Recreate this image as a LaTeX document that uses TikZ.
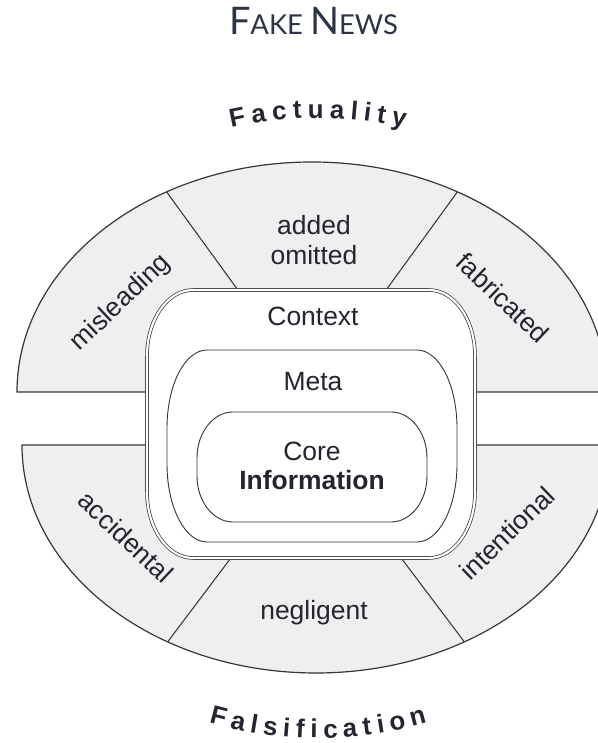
\documentclass[tikz,border=0pt]{standalone}
\usepackage{fontspec}
\setmainfont{Liberation Sans}
\newfontfamily\titlefont{Lato}
\usepackage{tikz}
\usetikzlibrary{positioning}
\usepackage{xcolor}
\definecolor{ringfill}{HTML}{EFEFEF}
\definecolor{ringline}{HTML}{363636}
\definecolor{inkdark}{HTML}{23252F}
\definecolor{titleink}{HTML}{2E3448}

% box with elliptic corners: cx, cy, half width, half height, corner rx, corner ry
\newcommand{\softbox}[6]{%
  (#1-#3+#5,#2+#4) -- (#1+#3-#5,#2+#4)
  arc[start angle=90, end angle=0, x radius=#5, y radius=#6] -- (#1+#3,#2-#4+#6)
  arc[start angle=0, end angle=-90, x radius=#5, y radius=#6] -- (#1-#3+#5,#2-#4)
  arc[start angle=270, end angle=180, x radius=#5, y radius=#6] -- (#1-#3,#2+#4-#6)
  arc[start angle=180, end angle=90, x radius=#5, y radius=#6] -- cycle}

\begin{document}
\begin{tikzpicture}[
  x=0.025cm, y=0.025cm,
  sector/.style={fill=ringfill, draw=ringline, line width=0.85pt},
  divider/.style={draw=ringline, line width=0.75pt},
  ctxbox/.style={fill=white, draw=ringline, line width=0.5pt,
                 double=white, double distance=1.5pt},
  layer/.style={fill=white, draw=ringline, line width=0.65pt},
  lbl/.style={font=\fontsize{18.8}{21}\selectfont, text=inkdark,
              align=center, inner sep=0pt},
  arcletter/.style={font=\fontsize{18.4}{18}\selectfont\bfseries,
                    text=inkdark, anchor=base, inner sep=0pt}
]
  \clip (0,0) rectangle (598,743);

  \coordinate (upc) at (312,351);
  \coordinate (lowc) at (316,298);
  \coordinate (factc) at (318,225);
  \coordinate (falsc) at (318,405);

  % Title
  \node[anchor=base, text=titleink, inner sep=0pt] (title) at (313.5,708)
    {\titlefont\fontsize{27}{28}\selectfont F\fontsize{19.5}{20}\selectfont AKE
     \fontsize{27}{28}\selectfont N\fontsize{19.5}{20}\selectfont EWS};

  % Outer ring, two halves
  \path[sector] (17,351) arc[start angle=180, end angle=0, x radius=295, y radius=230] -- cycle;
  \path[sector] (22,298) arc[start angle=180, end angle=360, x radius=294, y radius=228] -- cycle;

  % Sector borders
  \begin{scope}
    \clip (17,351) arc[start angle=180, end angle=0, x radius=295, y radius=230] -- cycle;
    \draw[divider] (upc) -- ++(54:320) (upc) -- ++(126:320);
  \end{scope}
  \begin{scope}
    \clip (22,298) arc[start angle=180, end angle=360, x radius=294, y radius=228] -- cycle;
    \draw[divider] (lowc) -- ++(233:320) (lowc) -- ++(307:320);
  \end{scope}

  % Nested layers
  \path[ctxbox] \softbox{311}{319}{164}{134}{46}{66};
  \path[layer] \softbox{312}{297}{145}{96}{40}{78};
  \path[layer] \softbox{312}{276}{115}{55}{36}{46};

  % Labels
  \node[lbl] (added) at (314,503) {added\\omitted};
  \node[lbl] (context) at (313,427) {Context};
  \node[lbl] (meta) at (313,361) {Meta};
  \node[lbl] (core) at (312,277) {Core\\\textbf{Information}};
  \node[lbl] (negligent) at (314,130) {negligent};
  \node[lbl, rotate=43.5] (misleading) at (121,440) {misleading};
  \node[lbl, rotate=-43.5] (fabricated) at (503,445) {fabricated};
  \node[lbl, rotate=-43.5] (accidental) at (126,206) {accidental};
  \node[lbl, rotate=44] (intentional) at (507,210) {intentional};

  % Arc headings
  \foreach \ch/\ang in {F/101.40, a/98.37, c/95.44, t/92.93, u/90.32,
                        a/87.29, l/84.89, i/83.00, t/81.01, y/78.50}
    \node[arcletter, rotate={\ang-90}] at ([shift={(\ang:400)}]factc) {\ch};
  \foreach \ch/\ang in {F/255.29, a/258.25, l/260.65, s/263.02, i/265.42,
                        f/267.42, i/269.43, c/271.82, a/274.68, t/277.18,
                        i/279.18, o/281.66, n/284.71}
    \node[arcletter, rotate={\ang-270}] at ([shift={(\ang:400)}]falsc) {\ch};
\end{tikzpicture}
\end{document}
